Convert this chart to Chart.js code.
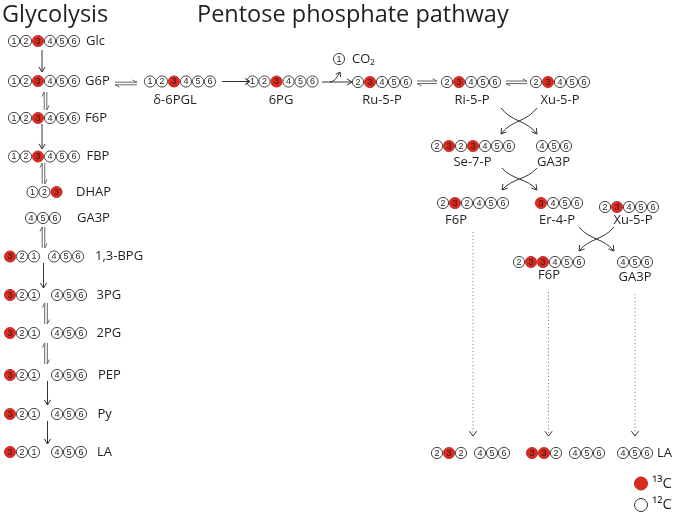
<!DOCTYPE html>
<html>
<head>
<title>Glycolysis and pentose phosphate pathway</title>
<script src="https://cdn.jsdelivr.net/npm/chart.js@4.4.5/dist/chart.umd.min.js"></script>
<style>
  body { margin: 0; background: #fff; }
  #wrap { width: 675px; height: 514px; }
</style>
</head>
<body>
<div id="wrap"><canvas id="chart" width="675" height="514"></canvas></div>
<script>
// carbon groups: each digit is a carbon number, '*' marks the carbon before it as 13C
const groupCarbons = [
  '123*456', '123*456', '123*456', '123*456', '123*', '456',
  '3*21', '456', '3*21', '456', '3*21', '456', '3*21', '456', '3*21', '456', '3*21', '456',
  '123*456', '123*456', '1', '23*456', '23*456', '23*456',
  '23*23*456', '456', '23*2456', '3*456', '23*456', '23*3*456', '456',
  '23*2', '456', '3*3*2', '456', '456'
];
const groupX = [
  14, 14, 14, 14, 32.5, 31,
  10, 54, 10, 57, 10, 57, 10, 57, 10, 57, 10, 57,
  150, 252.5, 339, 358, 447, 536,
  437, 542, 443, 541, 605, 519, 623,
  437, 480, 532, 575, 623
];
const groupY = [
  41, 81, 118, 156.5, 192, 218,
  256.5, 256.5, 295, 295, 333, 333, 375, 375, 414, 414, 452, 452,
  81.5, 81.5, 59, 82, 82, 82,
  146, 146, 203, 203, 207, 262, 262,
  453, 453, 453, 453, 453
];

// metabolite names
const labelText = [
  'Glc', 'G6P', 'F6P', 'FBP', 'DHAP', 'GA3P', '1,3-BPG', '3PG', '2PG', 'PEP', 'Py', 'LA',
  'δ-6PGL', '6PG', 'Ru-5-P', 'Ri-5-P', 'Xu-5-P', 'CO₂',
  'Se-7-P', 'GA3P', 'F6P', 'Er-4-P', 'Xu-5-P', 'F6P', 'GA3P', 'LA'
];
const labelX = [
  86, 85, 85, 86.5, 76, 77, 95, 96.5, 96.5, 98, 97.5, 97,
  175, 281, 382, 472, 560, 352,
  472.5, 553.5, 456, 557, 633, 549, 635, 657
];
const labelY = [
  41, 81, 118, 156.5, 192, 218, 256.5, 295, 333, 375, 414, 452,
  100, 100, 100, 100, 100, 59,
  162, 162, 220, 220, 220, 275.5, 277, 453
];
const labelAlign = [
  'left', 'left', 'left', 'left', 'left', 'left', 'left', 'left', 'left', 'left', 'left', 'left',
  'center', 'center', 'center', 'center', 'center', 'left',
  'center', 'center', 'center', 'center', 'center', 'center', 'center', 'left'
];

const titleText = ['Glycolysis', 'Pentose phosphate pathway'];
const titleX = [2, 197];
const titleY = [21.5, 21.5];

// reactions
const arrowType = [
  'single', 'eq', 'single', 'eq', 'eq', 'single', 'eq', 'eq', 'single', 'single',
  'eq', 'single', 'single', 'branch', 'eq', 'eq',
  'cross', 'cross', 'cross', 'dotted', 'dotted', 'dotted'
];
const arrowX1 = [42, 45.5, 42, 43.5, 43.5, 43.5, 46, 46, 47.5, 47.5, 115, 222, 322, 330, 417, 506, 501, 502, 579, 473, 548.5, 635];
const arrowY1 = [50, 92, 124, 163, 227, 263, 303, 343, 381, 421, 83.5, 81.5, 82, 82, 82.3, 82.3, 108, 168, 227, 232, 292, 294];
const arrowX2 = [42, 45.5, 42, 43.5, 43.5, 43.5, 46, 46, 47.5, 47.5, 137, 250, 352, 340, 437, 527, 537, 537, 614, 473, 548.5, 635];
const arrowY2 = [72, 110, 149, 184, 248, 288, 324, 364, 405, 444, 83.5, 81.5, 82, 72, 82.3, 82.3, 134, 190, 251, 436, 436, 436];

// legend
const legendText = ['¹³C', '¹²C'];
const legendY = [483.5, 505];

const RED = '#dc2a1f';
const INK = '#231f20';
const pitch = 12;

const labelled = [], plain = [];
groupCarbons.forEach((s, g) => {
  let k = 0;
  for (let i = 0; i < s.length; i++) {
    const n = s[i];
    const hot = s[i + 1] === '*';
    const pt = { x: groupX[g] + k * pitch, y: groupY[g], n: n };
    (hot ? labelled : plain).push(pt);
    if (hot) i++;
    k++;
  }
});

function head(ctx, x, y, ang, len, spread) {
  ctx.beginPath();
  ctx.moveTo(x - len * Math.cos(ang - spread), y - len * Math.sin(ang - spread));
  ctx.lineTo(x, y);
  ctx.lineTo(x - len * Math.cos(ang + spread), y - len * Math.sin(ang + spread));
  ctx.stroke();
}

const diagram = {
  id: 'diagram',
  afterDatasetsDraw(chart) {
    const ctx = chart.ctx;
    const sx = chart.scales.x, sy = chart.scales.y;
    const X = v => sx.getPixelForValue(v);
    const Y = v => sy.getPixelForValue(v);
    ctx.save();

    // numbers in the carbon circles
    ctx.fillStyle = INK;
    ctx.font = '9px "Liberation Sans", Arial, sans-serif';
    ctx.textAlign = 'center';
    ctx.textBaseline = 'middle';
    [0, 1].forEach(di => {
      const meta = chart.getDatasetMeta(di);
      meta.data.forEach((el, j) => {
        ctx.fillText(chart.data.datasets[di].data[j].n, el.x, el.y + 0.5);
      });
    });

    // arrows
    ctx.strokeStyle = '#333';
    ctx.lineWidth = 1;
    arrowType.forEach((t, i) => {
      const x1 = X(arrowX1[i]), y1 = Y(arrowY1[i]), x2 = X(arrowX2[i]), y2 = Y(arrowY2[i]);
      const L = Math.hypot(x2 - x1, y2 - y1);
      const dx = (x2 - x1) / L, dy = (y2 - y1) / L;
      const nx = -dy, ny = dx;
      const ang = Math.atan2(dy, dx);
      if (t === 'single') {
        ctx.beginPath(); ctx.moveTo(x1, y1); ctx.lineTo(x2, y2); ctx.stroke();
        head(ctx, x2, y2, ang, 6, 0.55);
      } else if (t === 'eq') {
        const o = 1.3, b = 4.5;
        ctx.save();
        ctx.strokeStyle = '#555';
        ctx.lineWidth = 0.9;
        const ax1 = x1 - o * nx, ay1 = y1 - o * ny, ax2 = x2 - o * nx, ay2 = y2 - o * ny;
        ctx.beginPath(); ctx.moveTo(ax1, ay1); ctx.lineTo(ax2, ay2);
        ctx.lineTo(ax2 - b * dx - 2.2 * nx, ay2 - b * dy - 2.2 * ny); ctx.stroke();
        const bx1 = x1 + o * nx, by1 = y1 + o * ny, bx2 = x2 + o * nx, by2 = y2 + o * ny;
        ctx.beginPath(); ctx.moveTo(bx2, by2); ctx.lineTo(bx1, by1);
        ctx.lineTo(bx1 + b * dx + 2.2 * nx, by1 + b * dy + 2.2 * ny); ctx.stroke();
        ctx.restore();
      } else if (t === 'branch') {
        const cx = x2 - 5, cy = y1;
        ctx.beginPath(); ctx.moveTo(x1, y1); ctx.quadraticCurveTo(cx, cy, x2, y2); ctx.stroke();
        head(ctx, x2, y2, Math.atan2(y2 - cy, x2 - cx), 5, 0.6);
      } else if (t === 'cross') {
        const w = x2 - x1, h = y2 - y1;
        const curves = [
          [x1, y1, x1 + 0.3 * w, y1 + 0.55 * h, x2 - 0.3 * w, y2 - 0.55 * h, x2, y2],
          [x2, y1, x2 - 0.3 * w, y1 + 0.55 * h, x1 + 0.3 * w, y2 - 0.55 * h, x1, y2]
        ];
        curves.forEach(c => {
          ctx.beginPath(); ctx.moveTo(c[0], c[1]);
          ctx.bezierCurveTo(c[2], c[3], c[4], c[5], c[6], c[7]); ctx.stroke();
          head(ctx, c[6], c[7], Math.atan2(c[7] - c[5], c[6] - c[4]), 6, 0.55);
        });
      } else if (t === 'dotted') {
        ctx.save();
        ctx.strokeStyle = '#777';
        ctx.setLineDash([1, 2.5]);
        ctx.beginPath(); ctx.moveTo(x1, y1); ctx.lineTo(x2, y2); ctx.stroke();
        ctx.restore();
        head(ctx, x2, y2, ang, 6, 0.65);
      }
    });

    // titles
    ctx.fillStyle = INK;
    ctx.textBaseline = 'alphabetic';
    ctx.textAlign = 'left';
    ctx.font = '23.5px "Open Sans", sans-serif';
    titleText.forEach((t, i) => ctx.fillText(t, X(titleX[i]), Y(titleY[i])));

    // metabolite labels
    ctx.font = '13px "Open Sans", sans-serif';
    ctx.textBaseline = 'middle';
    labelText.forEach((t, i) => {
      ctx.textAlign = labelAlign[i];
      ctx.fillText(t, X(labelX[i]), Y(labelY[i]));
    });

    // legend text
    ctx.font = '15px "Open Sans", sans-serif';
    ctx.textAlign = 'left';
    legendText.forEach((t, i) => ctx.fillText(t, X(652), Y(legendY[i])));
    ctx.restore();
  }
};

new Chart(document.getElementById('chart'), {
  type: 'scatter',
  data: {
    datasets: [
      { label: '13C', data: labelled, pointRadius: 5.6, backgroundColor: RED, borderColor: '#b8221a', borderWidth: 0.8 },
      { label: '12C', data: plain, pointRadius: 5.6, backgroundColor: '#fff', borderColor: '#333', borderWidth: 0.9 },
      {
        label: 'legend',
        data: legendY.map(v => ({ x: 641, y: v })),
        pointRadius: 6.5,
        backgroundColor: [RED, '#fff'],
        borderColor: ['#b8221a', '#333'],
        borderWidth: 1
      }
    ]
  },
  options: {
    responsive: false,
    animation: false,
    events: [],
    layout: { padding: 0, autoPadding: false },
    plugins: { legend: { display: false }, tooltip: { enabled: false } },
    scales: {
      x: { type: 'linear', min: 0, max: 675, display: false },
      y: { type: 'linear', min: 0, max: 514, reverse: true, display: false }
    }
  },
  plugins: [diagram]
});
</script>
</body>
</html>
